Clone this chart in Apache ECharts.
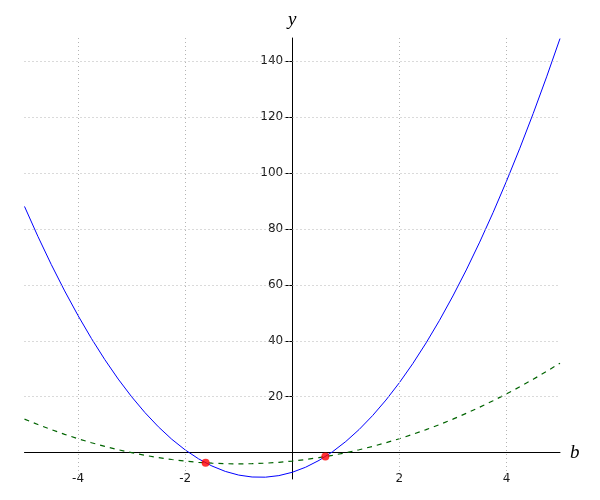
<!DOCTYPE html>
<html>
<head>
<meta charset="utf-8">
<script src="https://cdn.jsdelivr.net/npm/echarts@6/dist/echarts.min.js"></script>
<style>html,body{margin:0;padding:0;background:#fff}#c{width:600px;height:500px}</style>
</head>
<body>
<div id="c"></div>
<script>
// sampled b values
const bValues = [-5,-4.75,-4.5,-4.25,-4,-3.75,-3.5,-3.25,-3,-2.75,-2.5,-2.25,-2,-1.75,-1.5,-1.25,-1,-0.75,-0.5,-0.25,0,0.25,0.5,0.75,1,1.25,1.5,1.75,2,2.25,2.5,2.75,3,3.25,3.5,3.75,4,4.25,4.5,4.75,5];
// blue solid curve
const blueY = [88,77.31,67.25,57.81,49,40.81,33.25,26.31,20,14.31,9.25,4.81,1,-2.19,-4.75,-6.69,-8,-8.69,-8.75,-8.19,-7,-5.19,-2.75,0.31,4,8.31,13.25,18.81,25,31.81,39.25,47.31,56,65.31,75.25,85.81,97,108.81,121.25,134.31,148];
// green dashed curve
const greenY = [12,10.06,8.25,6.56,5,3.56,2.25,1.06,0,-0.94,-1.75,-2.44,-3,-3.44,-3.75,-3.94,-4,-3.94,-3.75,-3.44,-3,-2.44,-1.75,-0.94,0,1.06,2.25,3.56,5,6.56,8.25,10.06,12,14.06,16.25,18.56,21,23.56,26.25,29.06,32];
// red intersection points
const pointsB = [-1.618, 0.618];
const pointsY = [-3.618, -1.382];
// tick labels
const xTicks = [-4, -2, 2, 4];
const yTicks = [20, 40, 60, 80, 100, 120, 140];

const X_MIN = -5, X_MAX = 5, Y_MIN = -9.4, Y_MAX = 148.2;

const zip = (a, b) => a.map((v, i) => [v, b[i]]);
const gridStyle = {type: [1, 3], color: '#b4b4b4', width: 1};

const chart = echarts.init(document.getElementById('c'));
chart.setOption({
  animation: false,
  grid: {left: 24.5, right: 40, top: 38, bottom: 21, containLabel: false, outerBoundsMode: 'none'},
  xAxis: {
    type: 'value', min: X_MIN, max: X_MAX, position: 'bottom', offset: 0,
    name: 'b', nameLocation: 'end', nameGap: 10,
    nameTextStyle: {fontFamily: 'Liberation Serif', fontStyle: 'italic', fontSize: 19, color: '#000', padding: [2, 0, 0, 0]},
    axisLine: {onZero: false, lineStyle: {color: '#000', width: 1}},
    axisTick: {show: false},
    splitLine: {show: false},
    axisLabel: {customValues: xTicks, margin: 20, fontFamily: 'DejaVu Sans', fontSize: 12, color: '#1a1a1a'}
  },
  yAxis: {
    type: 'value', min: Y_MIN, max: Y_MAX, position: 'left', offset: 0,
    name: 'y', nameLocation: 'end', nameGap: 9,
    nameTextStyle: {fontFamily: 'Liberation Serif', fontStyle: 'italic', fontSize: 19, color: '#000', align: 'center'},
    axisLine: {onZero: false, lineStyle: {color: '#000', width: 1}},
    axisTick: {customValues: yTicks, length: 7, inside: false, lineStyle: {color: '#000'}},
    splitLine: {show: false},
    axisLabel: {customValues: yTicks, margin: 9, fontFamily: 'DejaVu Sans', fontSize: 12, color: '#1a1a1a'}
  },
  series: [
    {
      type: 'line', data: [], z: 1, silent: true,
      markLine: {
        silent: true, symbol: 'none', label: {show: false}, animation: false,
        lineStyle: gridStyle,
        emphasis: {disabled: true},
        data: xTicks.map(v => ({xAxis: v})).concat(yTicks.map(v => ({yAxis: v})))
      }
    },
    {
      type: 'line', data: zip(bValues, blueY), showSymbol: false, z: 3,
      lineStyle: {color: '#0000ff', width: 1}
    },
    {
      type: 'line', data: zip(bValues, greenY), showSymbol: false, z: 3,
      lineStyle: {color: '#006400', width: 1.2, type: [5, 5]}
    },
    {
      type: 'scatter', data: zip(pointsB, pointsY), symbolSize: 8, z: 4,
      itemStyle: {color: '#ff0000'}
    }
  ]
});

// Move the axes so they cross at the origin, using the library's own scales
const xZero = chart.convertToPixel({xAxisIndex: 0}, 0);
const xLeft = chart.convertToPixel({xAxisIndex: 0}, X_MIN);
const yZero = chart.convertToPixel({yAxisIndex: 0}, 0);
const yBottom = chart.convertToPixel({yAxisIndex: 0}, Y_MIN);
chart.setOption({
  xAxis: {offset: -(yBottom - yZero)},
  yAxis: {offset: -(xZero - xLeft)}
});
</script>
</body>
</html>
